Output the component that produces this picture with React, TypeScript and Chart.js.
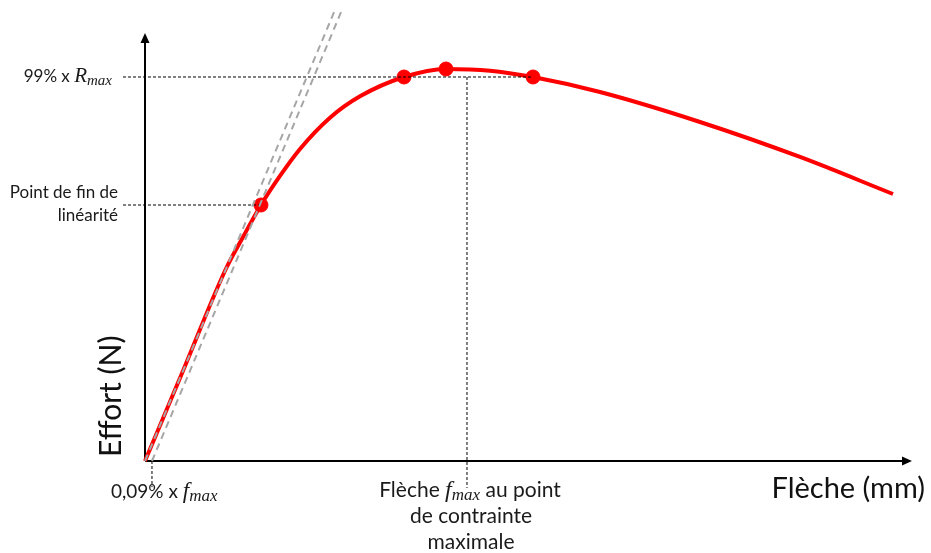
import React, { useEffect, useRef } from "react";
import { Chart, registerables } from "chart.js";
Chart.register(...registerables);

// Load–deflection curve (schematic units: x = Flèche, y = Effort, both 0..100)
const curveX = [0, 5.0, 10.6, 12.8, 15.12, 17.6, 20.21, 24.12, 28.03, 33.77, 39.24, 44.98, 50.59, 59.32, 72.36, 85.4, 97.52];
const curveY = [0, 21.26, 45.09, 52.4, 59.81, 66.6, 72.9, 80.2, 85.2, 89.72, 91.59, 91.2, 89.72, 86.21, 79.21, 71.03, 62.38];

// Remarkable points (fin de linéarité, 99% Rmax gauche, Rmax, 99% Rmax droite)
const markX = [15.12, 33.77, 39.24, 50.59];
const markY = [59.81, 89.72, 91.59, 89.72];

// Tangent lines (grey dashed)
const tan1X = [0, 24.77];
const tan1Y = [0, 105.37];
const tan2X = [0.91, 25.68];
const tan2Y = [0, 105.37];

// Guide lines (black dashed)
const guide99X = [-2.87, 50.59];
const guide99Y = [89.72, 89.72];
const guideLinX = [-2.87, 15.12];
const guideLinY = [59.81, 59.81];
const guideFmaxX = [41.98, 41.98];
const guideFmaxY = [89.72, -6.3];
const guide009X = [0.91, 0.91];
const guide009Y = [0, -6.1];

const zip = (xs: number[], ys: number[]) => xs.map((x, i) => ({ x, y: ys[i] }));

const SANS = "Lato, 'Open Sans', sans-serif";
const MATH = "'Liberation Serif', 'DejaVu Serif', serif";

type Seg = { t: string; f: string; dy?: number };

function drawSegs(ctx: CanvasRenderingContext2D, segs: Seg[], x: number, y: number, align: "left" | "right" | "center") {
  let w = 0;
  for (const s of segs) {
    ctx.font = s.f;
    w += ctx.measureText(s.t).width;
  }
  let cx = align === "right" ? x - w : align === "center" ? x - w / 2 : x;
  ctx.textAlign = "left";
  for (const s of segs) {
    ctx.font = s.f;
    ctx.fillText(s.t, cx, y + (s.dy || 0));
    cx += ctx.measureText(s.t).width;
  }
}

const axesPlugin = {
  id: "axesArrows",
  beforeDatasetsDraw(chart: any) {
    const ctx: CanvasRenderingContext2D = chart.ctx;
    const xs = chart.scales.x;
    const ys = chart.scales.y;
    const x0 = xs.getPixelForValue(0);
    const y0 = ys.getPixelForValue(0);
    const xEnd = xs.getPixelForValue(100);
    const yEnd = ys.getPixelForValue(100);
    ctx.save();
    ctx.strokeStyle = "#000";
    ctx.fillStyle = "#000";
    ctx.lineWidth = 2;
    ctx.beginPath();
    ctx.moveTo(x0, y0);
    ctx.lineTo(x0, yEnd + 8);
    ctx.moveTo(x0, y0);
    ctx.lineTo(xEnd - 8, y0);
    ctx.stroke();
    ctx.beginPath();
    ctx.moveTo(x0, yEnd);
    ctx.lineTo(x0 - 4.5, yEnd + 10);
    ctx.lineTo(x0 + 4.5, yEnd + 10);
    ctx.closePath();
    ctx.fill();
    ctx.beginPath();
    ctx.moveTo(xEnd, y0);
    ctx.lineTo(xEnd - 10, y0 - 4.5);
    ctx.lineTo(xEnd - 10, y0 + 4.5);
    ctx.closePath();
    ctx.fill();
    ctx.restore();
  },
};

const textPlugin = {
  id: "labels",
  afterDraw(chart: any) {
    const ctx: CanvasRenderingContext2D = chart.ctx;
    ctx.save();
    ctx.fillStyle = "#1a1a1a";
    ctx.textBaseline = "alphabetic";
    const fl = `17px ${SANS}`;
    const fb = `21px ${SANS}`;
    const m = `italic 21px ${MATH}`;
    const ms = `italic 15px ${MATH}`;
    const mb = `italic 24px ${MATH}`;
    const mbs = `italic 17px ${MATH}`;

    drawSegs(ctx, [{ t: "99% x ", f: fl }, { t: "R", f: m }, { t: "max", f: ms, dy: 3 }], 112, 82, "right");
    drawSegs(ctx, [{ t: "Point de fin de", f: fl }], 118, 198, "right");
    drawSegs(ctx, [{ t: "linéarité", f: fl }], 118, 221, "right");
    drawSegs(ctx, [{ t: "0,09% x ", f: `19px ${SANS}` }, { t: "f", f: `italic 23px ${MATH}` }, { t: "max", f: `italic 17px ${MATH}`, dy: 3 }], 111, 498, "left");
    drawSegs(ctx, [{ t: "Flèche ", f: fb }, { t: "f", f: mb }, { t: "max", f: mbs, dy: 3 }, { t: " au point", f: fb }], 470, 497, "center");
    drawSegs(ctx, [{ t: "de contrainte", f: fb }], 471, 523, "center");
    drawSegs(ctx, [{ t: "maximale", f: fb }], 471, 549, "center");

    ctx.fillStyle = "#111";
    drawSegs(ctx, [{ t: "Flèche (mm)", f: `29px ${SANS}` }], 925, 498, "right");
    ctx.save();
    ctx.translate(121, 457);
    ctx.rotate(-Math.PI / 2);
    drawSegs(ctx, [{ t: "Effort (N)", f: `30px ${SANS}` }], 0, 0, "left");
    ctx.restore();
    ctx.restore();
  },
};

export default function App() {
  const ref = useRef<HTMLCanvasElement | null>(null);
  useEffect(() => {
    if (!ref.current) return;
    const dashed = (data: any, color: string, width: number, dash: number[]) => ({
      type: "line" as const,
      data,
      borderColor: color,
      borderWidth: width,
      borderDash: dash,
      pointRadius: 0,
      fill: false,
      tension: 0,
      clip: false as any,
    });
    const chart = new Chart(ref.current, {
      type: "line",
      data: {
        datasets: [
          dashed(zip(tan1X, tan1Y), "#a6a6a6", 2, [7, 5]),
          dashed(zip(tan2X, tan2Y), "#a6a6a6", 2, [7, 5]),
          dashed(zip(guide99X, guide99Y), "#000", 1, [3, 2]),
          dashed(zip(guideLinX, guideLinY), "#000", 1, [3, 2]),
          dashed(zip(guideFmaxX, guideFmaxY), "#000", 1, [3, 2]),
          dashed(zip(guide009X, guide009Y), "#000", 1, [3, 2]),
          {
            type: "line",
            data: zip(curveX, curveY),
            borderColor: "#ff0000",
            borderWidth: 4,
            pointRadius: 0,
            cubicInterpolationMode: "monotone",
            fill: false,
            clip: false as any,
          },
          {
            type: "scatter" as any,
            data: zip(markX, markY),
            backgroundColor: "#ff0000",
            borderColor: "#ff0000",
            pointRadius: 7,
            showLine: false,
            clip: false as any,
          },
        ] as any,
      },
      options: {
        animation: false,
        responsive: false,
        devicePixelRatio: 1,
        layout: { padding: { left: 145, right: 19, top: 33, bottom: 92 } },
        plugins: { legend: { display: false }, tooltip: { enabled: false } },
        scales: {
          x: { type: "linear", min: 0, max: 100, display: false },
          y: { type: "linear", min: 0, max: 100, display: false },
        },
      },
      plugins: [axesPlugin, textPlugin],
    });
    return () => chart.destroy();
  }, []);
  return (
    <div style={{ position: "fixed", left: 0, top: 0, width: 931, height: 553, background: "#fff" }}>
      <canvas ref={ref} width={931} height={553} style={{ width: 931, height: 553, display: "block" }} />
    </div>
  );
}
